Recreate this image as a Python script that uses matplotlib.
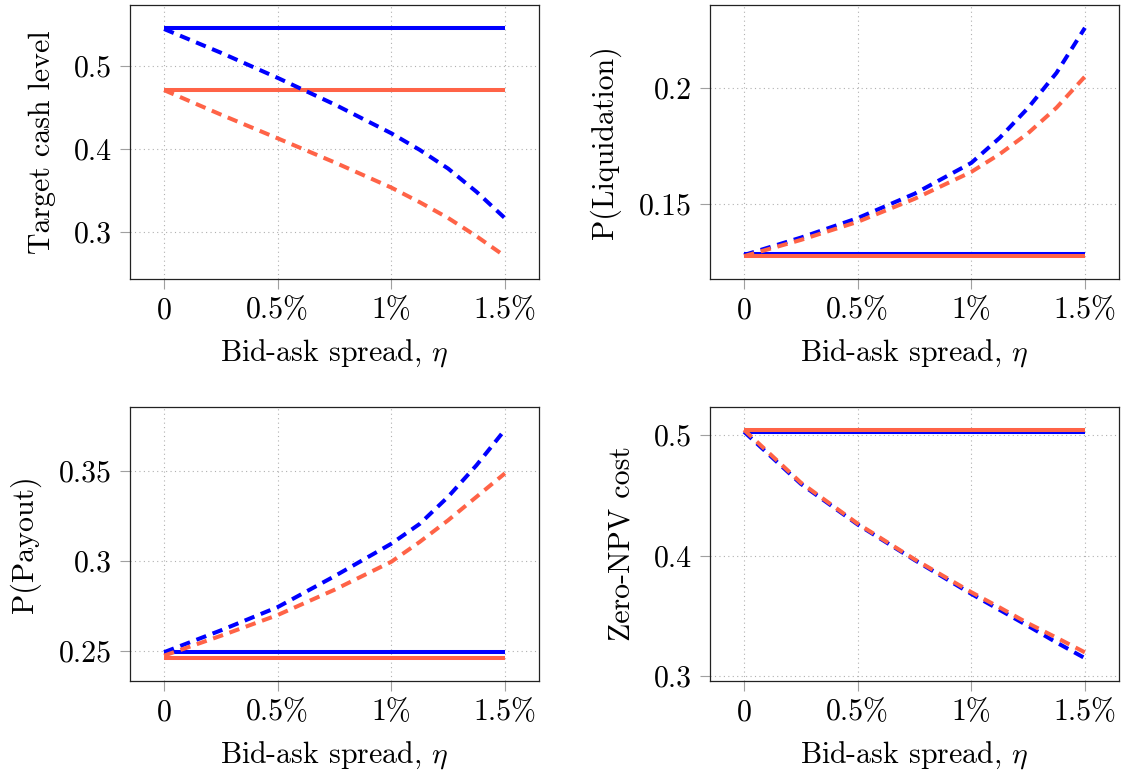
import matplotlib
matplotlib.use("Agg")
import matplotlib.pyplot as plt

# spread grid (in %)
eta = [0, 0.25, 0.5, 0.75, 1.0, 1.125, 1.25, 1.375, 1.5]
xticks = [0, 0.5, 1.0, 1.5]
xticklabels = ["0", "0.5%", "1%", "1.5%"]
xlabel = r"Bid-ask spread, $\eta$"

# Target cash level
cash_blue_solid = 0.546
cash_orange_solid = 0.471
cash_blue_dash = [0.5446, 0.516, 0.4857, 0.4538, 0.419, 0.399, 0.3765, 0.3485, 0.3168]
cash_orange_dash = [0.471, 0.4415, 0.4129, 0.384, 0.3536, 0.336, 0.317, 0.295, 0.271]

# P(Liquidation)
liq_blue_solid = 0.1285
liq_orange_solid = 0.1275
liq_blue_dash = [0.128, 0.1355, 0.1439, 0.1544, 0.1677, 0.1785, 0.1914, 0.2065, 0.2259]
liq_orange_dash = [0.1275, 0.1345, 0.1423, 0.1522, 0.1638, 0.1715, 0.1805, 0.1915, 0.2049]

# P(Payout)
pay_blue_solid = 0.2494
pay_orange_solid = 0.2461
pay_blue_dash = [0.2494, 0.2615, 0.2744, 0.2915, 0.3095, 0.3205, 0.3355, 0.353, 0.3726]
pay_orange_dash = [0.2475, 0.2585, 0.2700, 0.2840, 0.2995, 0.3105, 0.3225, 0.3355, 0.3485]

# Zero-NPV cost
npv_blue_solid = 0.5027
npv_orange_solid = 0.5043
npv_blue_dash = [0.5027, 0.4595, 0.4258, 0.3964, 0.3683, 0.355, 0.3417, 0.328, 0.315]
npv_orange_dash = [0.5043, 0.4605, 0.4265, 0.397, 0.3697, 0.357, 0.3439, 0.332, 0.3198]

BLUE = "#0000ff"
ORANGE = "#ff6347"

plt.rcParams["font.family"] = "serif"
plt.rcParams["font.serif"] = ["cmr10", "DejaVu Serif"]
plt.rcParams["mathtext.fontset"] = "cm"
plt.rcParams["axes.unicode_minus"] = False

W, H = 1123, 777
fig = plt.figure(figsize=(W / 100, H / 100), dpi=100)

# pixel boxes: left, right, top, bottom
boxes = [(130, 539, 5, 279), (710, 1119, 5, 279),
         (130, 539, 407, 681), (710, 1119, 407, 681)]

panels = [
    ("Target cash level", cash_blue_solid, cash_orange_solid, cash_blue_dash, cash_orange_dash,
     [0.3, 0.4, 0.5], ["0.3", "0.4", "0.5"]),
    ("P(Liquidation)", liq_blue_solid, liq_orange_solid, liq_blue_dash, liq_orange_dash,
     [0.15, 0.2], ["0.15", "0.2"]),
    ("P(Payout)", pay_blue_solid, pay_orange_solid, pay_blue_dash, pay_orange_dash,
     [0.25, 0.3, 0.35], ["0.25", "0.3", "0.35"]),
    ("Zero-NPV cost", npv_blue_solid, npv_orange_solid, npv_blue_dash, npv_orange_dash,
     [0.3, 0.4, 0.5], ["0.3", "0.4", "0.5"]),
]

FS = 21.5
LW = 2.9

for (l, r, t, b), (ylab, bs, os_, bd, od, yt, ytl) in zip(boxes, panels):
    ax = fig.add_axes([l / W, 1 - b / H, (r - l) / W, (b - t) / H])
    ax.plot([eta[0], eta[-1]], [bs, bs], color=BLUE, lw=LW, solid_capstyle="butt")
    ax.plot([eta[0], eta[-1]], [os_, os_], color=ORANGE, lw=LW, solid_capstyle="butt")
    ax.plot(eta, bd, color=BLUE, lw=LW, dashes=(2.6, 1.7))
    ax.plot(eta, od, color=ORANGE, lw=LW, dashes=(2.6, 1.7))
    ax.margins(x=0.1, y=0.1)
    ax.set_xticks(xticks)
    ax.set_xticklabels(xticklabels)
    ax.set_yticks(yt)
    ax.set_yticklabels(ytl)
    ax.grid(True, color="#b0b0b0", linestyle=(0, (1, 3)), linewidth=0.8)
    ax.tick_params(direction="out", length=7.5, width=0.8, color="#a0a0a0",
                   labelsize=FS, pad=5.5)
    for s in ax.spines.values():
        s.set_linewidth(0.9)
        s.set_color("#222222")
    ax.set_xlabel(xlabel, fontsize=FS, labelpad=9)
    ax.set_ylabel(ylab, fontsize=FS, labelpad=13)

fig.savefig("out.png", dpi=100)
